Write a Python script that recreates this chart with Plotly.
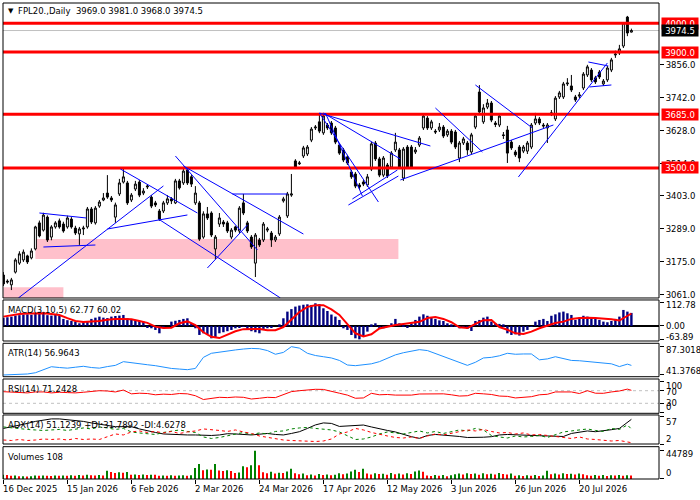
import plotly.graph_objects as go

#---DATA (one value per daily bar)---
tick_pos = [0, 16, 32, 48, 64, 80, 96, 112, 128, 144]
tick_text = ["16 Dec 2025", "15 Jan 2026", "6 Feb 2026", "2 Mar 2026", "24 Mar 2026",
             "17 Apr 2026", "12 May 2026", "3 Jun 2026", "26 Jun 2026", "20 Jul 2026"]

open_ = [3130, 3109, 3096, 3140, 3171, 3182, 3196, 3189, 3220, 3310,
         3285, 3330, 3261, 3296, 3317, 3306, 3296, 3323, 3292, 3272,
         3289, 3296, 3358, 3310, 3368, 3389, 3413, 3396, 3330, 3410,
         3451, 3448, 3389, 3427, 3451, 3413, 3434, 3399, 3379, 3351,
         3351, 3379, 3393, 3379, 3455, 3448, 3493, 3469, 3379, 3379,
         3261, 3341, 3344, 3220, 3306, 3313, 3310, 3261, 3296, 3282,
         3379, 3310, 3261, 3171, 3251, 3251, 3285, 3275, 3251, 3272,
         3386, 3334, 3406, 3524, 3514, 3541, 3548, 3596, 3638, 3659,
         3621, 3648, 3655, 3638, 3579, 3562, 3538, 3486, 3479, 3441,
         3451, 3441, 3496, 3586, 3531, 3475, 3510, 3503, 3562, 3562,
         3465, 3572, 3572, 3555, 3579, 3638, 3672, 3638, 3627, 3631,
         3641, 3614, 3627, 3624, 3534, 3586, 3586, 3555, 3641, 3762,
         3659, 3710, 3724, 3655, 3648, 3614, 3631, 3589, 3555, 3572,
         3558, 3558, 3572, 3655, 3669, 3648, 3638, 3686, 3669, 3745,
         3745, 3790, 3783, 3745, 3748, 3776, 3821, 3838, 3811, 3831,
         3790, 3804, 3838, 3890, 3897, 3921, 4021, 3969]
high = [3140, 3115, 3120, 3188, 3212, 3218, 3200, 3222, 3300, 3318,
        3345, 3336, 3302, 3316, 3325, 3314, 3335, 3330, 3300, 3296,
        3300, 3365, 3365, 3368, 3389, 3413, 3475, 3403, 3380, 3462,
        3496, 3455, 3413, 3455, 3458, 3430, 3444, 3406, 3386, 3358,
        3386, 3406, 3399, 3462, 3462, 3496, 3500, 3475, 3437, 3386,
        3350, 3365, 3350, 3268, 3344, 3320, 3317, 3292, 3300, 3368,
        3410, 3317, 3268, 3275, 3258, 3313, 3296, 3282, 3268, 3337,
        3400, 3417, 3479, 3530, 3524, 3576, 3579, 3641, 3648, 3683,
        3686, 3655, 3662, 3645, 3586, 3569, 3545, 3493, 3486, 3448,
        3458, 3479, 3590, 3593, 3538, 3541, 3517, 3558, 3621, 3569,
        3572, 3579, 3579, 3572, 3610, 3686, 3679, 3666, 3634, 3655,
        3648, 3634, 3634, 3631, 3593, 3607, 3593, 3621, 3686, 3786,
        3720, 3738, 3731, 3662, 3686, 3624, 3645, 3596, 3562, 3579,
        3579, 3593, 3655, 3690, 3676, 3655, 3655, 3700, 3748, 3766,
        3797, 3810, 3821, 3752, 3762, 3831, 3856, 3845, 3818, 3838,
        3807, 3852, 3880, 3905, 3925, 4004, 4025, 3981]
low = [3092, 3100, 3078, 3135, 3165, 3175, 3168, 3184, 3215, 3260,
       3280, 3244, 3250, 3290, 3290, 3276, 3290, 3290, 3268, 3234,
       3268, 3290, 3306, 3304, 3362, 3385, 3393, 3382, 3310, 3403,
       3446, 3372, 3382, 3420, 3399, 3406, 3427, 3361, 3365, 3317,
       3344, 3372, 3375, 3375, 3425, 3441, 3441, 3434, 3372, 3248,
       3255, 3320, 3261, 3185, 3296, 3296, 3275, 3254, 3278, 3275,
       3337, 3275, 3220, 3123, 3227, 3244, 3278, 3227, 3244, 3265,
       3380, 3327, 3400, 3496, 3510, 3534, 3541, 3589, 3631, 3620,
       3614, 3631, 3614, 3582, 3545, 3520, 3510, 3462, 3430, 3427,
       3437, 3434, 3489, 3524, 3468, 3468, 3465, 3496, 3555, 3496,
       3455, 3496, 3496, 3548, 3572, 3631, 3631, 3631, 3617, 3624,
       3603, 3607, 3582, 3565, 3520, 3579, 3545, 3548, 3634, 3686,
       3652, 3703, 3658, 3641, 3641, 3600, 3517, 3562, 3538, 3520,
       3551, 3548, 3565, 3648, 3648, 3638, 3586, 3679, 3662, 3738,
       3738, 3783, 3762, 3728, 3741, 3769, 3814, 3797, 3790, 3807,
       3783, 3797, 3831, 3880, 3890, 3914, 3955, 3968]
close = [3099, 3106, 3113, 3182, 3203, 3209, 3175, 3213, 3296, 3265,
         3337, 3251, 3296, 3310, 3296, 3282, 3327, 3296, 3275, 3289,
         3292, 3358, 3313, 3361, 3382, 3396, 3399, 3389, 3372, 3448,
         3469, 3379, 3406, 3444, 3406, 3420, 3437, 3368, 3372, 3323,
         3379, 3393, 3386, 3455, 3431, 3489, 3448, 3444, 3413, 3254,
         3341, 3327, 3268, 3261, 3327, 3306, 3282, 3285, 3285, 3361,
         3344, 3282, 3227, 3268, 3234, 3306, 3289, 3251, 3261, 3330,
         3393, 3410, 3410, 3503, 3517, 3569, 3572, 3634, 3641, 3627,
         3679, 3638, 3621, 3589, 3551, 3527, 3517, 3469, 3437, 3434,
         3444, 3469, 3583, 3531, 3475, 3534, 3472, 3551, 3589, 3503,
         3565, 3503, 3503, 3562, 3603, 3679, 3638, 3659, 3624, 3641,
         3610, 3627, 3589, 3572, 3586, 3600, 3562, 3614, 3679, 3693,
         3707, 3724, 3665, 3650, 3679, 3612, 3551, 3569, 3545, 3534,
         3572, 3586, 3648, 3669, 3655, 3645, 3648, 3690, 3741, 3759,
         3790, 3793, 3769, 3735, 3752, 3824, 3849, 3804, 3797, 3814,
         3800, 3845, 3873, 3893, 3911, 4001, 3966, 3974.5]

macd_main = [40, 42, 45, 50, 52, 55, 56, 54, 62, 68,
             66, 52, 50, 53, 49, 34, 28, 24, 21, 13,
             18, 21, 34, 40, 45, 40, 38, 45, 48, 50,
             53, 37, 32, 28, 24, 21, -5, -11, -19, -35,
             -11, 0, 21, 25, 29, 34, 37, 13, -11, -43,
             -35, -40, -59, -56, -35, -30, -25, -19, -11, -5,
             -3, -19, -25, -30, -35, -14, -11, -8, 0, 8,
             37, 69, 81, 93, 98, 102, 104, 101, 109, 105,
             85, 72, 55, 45, 29, -11, -19, -43, -59, -64,
             -51, -27, 8, 13, -5, -11, -3, 13, 34, 13,
             5, -8, 13, 29, 45, 56, 49, 40, 34, 27,
             24, 13, 8, -3, -11, -8, -14, -24, 24, 29,
             40, 45, 21, 13, 10, 8, -35, -43, -40, -46,
             -27, -19, -3, 21, 29, 34, 24, 49, 56, 65,
             69, 61, 53, 29, 40, 49, 45, 40, 37, 29,
             21, 18, 24, 34, 45, 77, 69, 62.77]

volumes = [6800, 6200, 5300, 5600, 4200, 4500, 4000, 4400,
           5600, 5000, 5500, 5200, 4800, 5400, 5100, 5600, 5300,
           5800, 5200, 6300, 5500, 6600, 6000, 5400, 6200, 5700,
           13000, 11000, 9500, 10500, 9800, 11200,
           6800, 7200, 6500, 7000, 6400, 6900, 6600,
           5000, 5600, 5200, 5800, 5100, 5500, 5900, 5300, 6000,
           17400, 23700, 14000, 15200, 14500, 23700,
           13500, 12500, 13800, 12800, 9500, 10200, 20000, 18500,
           21600, 44789, 21600,
           10500, 9000, 11500, 8500, 10000, 9500, 12000, 16300,
           9000, 7500, 8500, 6000, 7000, 5500, 8000, 6500, 7200, 5800, 6800, 9200, 7500, 8800,
           12000, 14500, 11000, 16300,
           8500, 7200, 9000, 7800, 8200, 6900, 9300, 7500, 8600, 7000, 9200, 8000,
           12000, 13500, 11500,
           5500, 4800, 6200, 5000, 6500, 4500, 5800,
           7500, 8800, 7000, 9200, 7800, 8500, 6900, 9000, 7600, 8300, 7100, 9400, 8000, 7300, 8700,
           5000, 6000, 4600, 5800, 5200, 6500, 4800, 5500, 13000,
           7500, 8500, 7000, 9000, 7800, 8300, 7200, 8800, 7600,
           5800, 5000, 6500, 5300, 6200, 4900, 6000, 5400, 6300, 5100, 5900, 5500]

# line indicators, read every second bar plus the last bar
macd_signal = [45, 52, 57, 60, 61, 61, 58, 53, 38, 24, 19, 21, 24, 30, 34, 34, 32, 24, 15, -3,
               -10, -8, 13, 22, 4, -30, -52, -58, -40, -25, -15, -14, -14, -20, -20, -5, 29, 67, 92, 100,
               100, 80, 53, 10, -35, -50, -40, -12, -2, 5, 10, 14, 20, 38, 43, 34, 18, -6, -10, 10,
               28, 29, -5, -18, -35, -38, -27, -11, 3, 14, 21, 34, 38, 40, 38, 36, 32, 26, 49, 60.02]
atr = [41.4, 42, 42.5, 43, 45, 50, 54.8, 53.5, 52.5, 54, 55.5, 53.5, 52.5, 55, 57, 63, 61, 59.5, 58, 56.5,
       54, 52, 51, 50, 52, 70, 76.6, 78, 80, 82, 83.5, 84.5, 84, 81, 75, 78, 87.3, 85, 76.6, 73,
       71, 69, 65, 57.6, 56.5, 57.5, 59.5, 63, 68, 74, 77.5, 80.5, 82.5, 81, 76, 71, 66, 62, 57, 62,
       69, 70, 72.5, 76.6, 75, 75.5, 75.5, 66, 67.5, 71, 67.5, 65, 64.5, 63.5, 61.5, 60.5, 59.5, 55, 59, 56.96]
rsi = [66.8, 65, 64, 63, 66, 66, 63, 65, 64, 63, 65, 68, 70, 69, 66, 72, 60, 62, 61, 57,
       59, 58, 61, 60, 54, 42, 45, 49, 48, 50, 49, 43.6, 46, 49, 48, 58, 67, 70, 73, 74.4,
       74, 67, 62, 56, 46, 47, 61.7, 57, 58, 56, 57, 56, 59.5, 60, 59, 60, 57, 53, 54, 61.7,
       60, 58, 53, 52, 47, 48, 51, 57, 58.6, 66, 67, 66, 61, 70, 62, 61.7, 66, 69, 75, 71.24]
adx = [33, 36, 40, 43, 47, 50, 52, 52, 50.5, 49, 47, 44, 42, 39, 36.5, 36, 36.5, 32, 28, 25,
       22, 21, 20, 20, 20, 19.5, 19, 20, 22.5, 22, 21, 20, 21.5, 23, 21, 20, 23, 26.5, 33, 40,
       44, 43, 37, 38, 39, 39.8, 36, 32, 29, 26, 21, 16.6, 13.3, 19, 21, 20, 18.6, 17, 15, 14.6,
       15.5, 16.6, 20, 21, 20, 19, 18.6, 18.5, 18, 17, 17, 23, 26, 28, 26.5, 28, 30.5, 33, 44, 51.12]
plus_di = [36, 34, 33, 31, 30, 29, 30, 31, 29, 31, 34, 32, 36, 34, 31, 33, 26, 24, 22, 21,
           25, 28, 30, 27, 25, 16, 13, 15, 18, 22, 25, 21, 24, 22, 27, 28, 32, 34, 35, 33,
           32, 30, 26, 18, 11, 12, 16, 22, 26, 24, 22, 25, 28, 24, 27, 23, 26, 30, 28, 33,
           30, 19, 16, 14, 18, 16, 17, 19, 15, 20, 26, 28, 30, 32, 29, 27, 33, 31, 40, 31.79]
minus_di = [10, 9, 11, 9, 10, 12, 11, 12, 10, 13, 11, 12, 11, 16, 22, 20, 26, 28, 25, 27,
            24, 27, 23, 26, 28, 32, 31, 29, 27, 30, 26, 23, 18, 15, 12, 10, 9, 8, 7, 7,
            8, 12, 22, 26, 33, 30, 25, 21, 18, 15, 14, 16, 13, 18, 22, 20, 23, 26, 30, 28,
            31, 27, 24, 25, 22, 24, 20, 21, 19, 17, 15, 13, 16, 12, 11, 10, 8, 9, 6, 4.63]

# horizontal levels and drawn objects (bar index, price)
levels = [4000.0, 3900.0, 3685.0, 3500.0]
bid = 3974.5
zone_x0 = [8, 0]
zone_x1 = [98.75, 15]
zone_y0 = [3185, 3045]
zone_y1 = [3254, 3088]
trend_x0 = [3.75, 26, 9, 10, 29.25, 38.75, 43, 45, 57.25, 51, 79, 80, 79, 80.5, 87.25, 86.25, 99.25, 108, 118, 128.75, 146.25, 146.5]
trend_y0 = [3050.6, 3288.9, 3344.2, 3226.7, 3496.2, 3323.5, 3541.1, 3506.6, 3409.8, 3154.2, 3689.6, 3689.6, 3689.6, 3689.6, 3392.6, 3371.8, 3458.2, 3706.9, 3786.4, 3468.6, 3865.8, 3779.5]
trend_x1 = [40, 46, 20.75, 23, 48.5, 69.25, 63.5, 75, 71, 61, 106.75, 99.25, 93.75, 89.75, 98.5, 98.75, 137.5, 119.75, 132.25, 151, 151.25, 152]
trend_y1 = [3437.5, 3337.3, 3326.9, 3233.6, 3344.2, 3050.6, 3216.4, 3271.6, 3409.8, 3302.7, 3575.6, 3530.7, 3382.2, 3402.9, 3492.7, 3472.0, 3648.2, 3554.9, 3637.8, 3862.4, 3852.0, 3786.4]

price_ticks = [3061, 3175, 3289, 3403, 3514, 3628, 3742, 3856]

bars = list(range(len(close)))
line_bars = bars[::2] + [bars[-1]]
for series in (open_, high, low, macd_main, volumes):
    assert len(series) == len(bars)
for series in (macd_signal, atr, rsi, adx, plus_di, minus_di):
    assert len(series) == len(line_bars)

vol_colors = ['#008000'] + ['#008000' if volumes[i] > volumes[i - 1] else '#ff0000' for i in range(1, len(volumes))]

FONT = "DejaVu Sans"

#---PLOT---
fig = go.Figure()
fig.add_trace(go.Candlestick(
    x=bars, open=open_, high=high, low=low, close=close,
    increasing=dict(line=dict(color='black', width=1), fillcolor='white'),
    decreasing=dict(line=dict(color='black', width=1), fillcolor='black'),
    yaxis='y', showlegend=False, hoverinfo='skip'))
fig.add_trace(go.Bar(x=bars, y=macd_main, width=0.6, marker_color='#000080',
                     marker_line_width=0, yaxis='y2', showlegend=False))
fig.add_trace(go.Scatter(x=line_bars, y=macd_signal, mode='lines',
                         line=dict(color='#ff0000', width=2), yaxis='y2', showlegend=False))
fig.add_trace(go.Scatter(x=line_bars, y=atr, mode='lines',
                         line=dict(color='#1e90ff', width=1), yaxis='y3', showlegend=False))
fig.add_trace(go.Scatter(x=line_bars, y=rsi, mode='lines',
                         line=dict(color='#ff0000', width=1), yaxis='y4', showlegend=False))
fig.add_trace(go.Scatter(x=line_bars, y=adx, mode='lines',
                         line=dict(color='black', width=1), yaxis='y5', showlegend=False))
fig.add_trace(go.Scatter(x=line_bars, y=plus_di, mode='lines',
                         line=dict(color='#008000', width=1, dash='3px,3px'), yaxis='y5', showlegend=False))
fig.add_trace(go.Scatter(x=line_bars, y=minus_di, mode='lines',
                         line=dict(color='#ff0000', width=1, dash='3px,3px'), yaxis='y5', showlegend=False))
fig.add_trace(go.Bar(x=bars, y=volumes, width=0.3, marker_color=vol_colors,
                     marker_line_width=0, yaxis='y6', showlegend=False))

#---AXES---
panels = {
    'yaxis': ([0.3803, 1.0], [3050.6, 4069.6]),
    'yaxis2': ([0.2899, 0.3761], [-72, 124.8]),
    'yaxis3': ([0.2149, 0.2851], [38.6, 92.8]),
    'yaxis4': ([0.1380, 0.2101], [-1.75, 107.1]),
    'yaxis5': ([0.0735, 0.1345], [2.0, 59.8]),
    'yaxis6': ([0.0, 0.0679], [0, 51070]),
}
panel_ticks = {
    'yaxis2': [112.78, 0, -63.89],
    'yaxis3': [87.3018, 41.3768],
    'yaxis4': [100, 70, 30, 0],
    'yaxis5': [57, 2],
    'yaxis6': [44789, 0],
}
axis_style = dict(side='right', anchor='x', showgrid=False, zeroline=False, showline=False,
                  ticks='outside', ticklen=4, tickcolor='black', fixedrange=True)
for name, (dom, rng) in panels.items():
    if name == 'yaxis':
        fig.update_layout({name: dict(domain=dom, range=rng, tickvals=price_ticks,
                                      ticktext=['%.1f' % v for v in price_ticks], **axis_style)})
    else:
        fig.update_layout({name: dict(domain=dom, range=rng, tickvals=panel_ticks[name],
                                      showticklabels=False, **axis_style)})

fig.update_layout(
    width=700, height=500,
    margin=dict(l=3, r=41, t=3, b=21),
    paper_bgcolor='white', plot_bgcolor='white',
    font=dict(family=FONT, size=8.5, color='black'),
    barmode='overlay',
    xaxis=dict(domain=[0, 1], range=[-0.1, 163.9], anchor='y6', showgrid=False, zeroline=False,
               tickvals=tick_pos, showticklabels=False, ticks='outside', ticklen=4,
               tickcolor='black', rangeslider=dict(visible=False), fixedrange=True),
)

#---SHAPES---
shapes = []
for x0, x1, y0, y1 in zip(zone_x0, zone_x1, zone_y0, zone_y1):
    shapes.append(dict(type='rect', xref='x', yref='y', x0=x0, x1=x1, y0=y0, y1=y1,
                       fillcolor='#ffc0cb', line_width=0, layer='below'))
for lv in (70, 30):
    shapes.append(dict(type='line', xref='paper', yref='y4', x0=0, x1=1, y0=lv, y1=lv,
                       line=dict(color='#c0c0c0', width=1, dash='3px,3px'), layer='below'))
shapes.append(dict(type='line', xref='paper', yref='y2', x0=0, x1=1, y0=0, y1=0,
                   line=dict(color='black', width=2), layer='below'))
shapes.append(dict(type='line', xref='paper', yref='y', x0=0, x1=1, y0=bid, y1=bid,
                   line=dict(color='#c0c0c0', width=1), layer='below'))
for lv in levels:
    shapes.append(dict(type='line', xref='paper', yref='y', x0=0, x1=1, y0=lv, y1=lv,
                       line=dict(color='#ff0000', width=3)))
for x0, y0, x1, y1 in zip(trend_x0, trend_y0, trend_x1, trend_y1):
    shapes.append(dict(type='line', xref='x', yref='y', x0=x0, y0=y0, x1=x1, y1=y1,
                       line=dict(color='#0000ff', width=1)))
for name, (dom, rng) in panels.items():
    shapes.append(dict(type='rect', xref='paper', yref='paper', x0=0, x1=1, y0=dom[0], y1=dom[1],
                       line=dict(color='black', width=1), fillcolor='rgba(0,0,0,0)'))
fig.update_layout(shapes=shapes)

#---ANNOTATIONS---
ann = []
ann.append(dict(xref='paper', yref='paper', x=0, y=1, xanchor='left', yanchor='top',
                xshift=3, yshift=-2, text='▼', showarrow=False, font=dict(size=7)))
ann.append(dict(xref='paper', yref='paper', x=0, y=1, xanchor='left', yanchor='top',
                xshift=13, yshift=-1, text='FPL20.,Daily  3969.0 3981.0 3968.0 3974.5',
                showarrow=False))
titles = [('MACD(3,10,5) 62.77 60.02', 'yaxis2'), ('ATR(14) 56.9643', 'yaxis3'),
          ('RSI(14) 71.2428', 'yaxis4'), ('ADX(14) 51.1239 +DI:31.7892 -DI:4.6278', 'yaxis5'),
          ('Volumes 108', 'yaxis6')]
for txt, name in titles:
    ann.append(dict(xref='paper', yref='paper', x=0, y=panels[name][0][1], xanchor='left',
                    yanchor='top', xshift=3, yshift=-3, text=txt, showarrow=False))
for pos, txt in zip(tick_pos, tick_text):
    ann.append(dict(xref='x', yref='paper', x=pos, y=0, xanchor='left', yanchor='top',
                    xshift=-2, yshift=-3, text=txt, showarrow=False))
# indicator scale labels, nudged inside their panels like the terminal does
label_shift = {'yaxis2': {112.78: -2.5, 0: 0, -63.89: 2.3},
               'yaxis3': {87.3018: -3.3, 41.3768: 4},
               'yaxis4': {100: -4.5, 70: -1, 30: 0, 0: 5.8},
               'yaxis5': {57: -6, 2: 5},
               'yaxis6': {44789: -3.5, 0: 6}}
label_fmt = {'yaxis2': '%.2f', 'yaxis3': '%.4f', 'yaxis4': '%g', 'yaxis5': '%g', 'yaxis6': '%g'}
for name, vals in panel_ticks.items():
    for v in vals:
        ann.append(dict(xref='paper', yref=name.replace('axis', ''), x=1, y=v, xanchor='left',
                        yanchor='middle', xshift=5, yshift=label_shift[name][v],
                        text=label_fmt[name] % v, showarrow=False))
for lv in levels:
    ann.append(dict(xref='paper', yref='y', x=1, y=lv, xanchor='left', yanchor='middle',
                    xshift=2, text='%.1f' % lv, showarrow=False, bgcolor='#ff0000',
                    font=dict(color='white'), width=34, height=9, borderpad=1))
ann.append(dict(xref='paper', yref='y', x=1, y=bid, xanchor='left', yanchor='middle',
                xshift=2, text='%.1f' % bid, showarrow=False, bgcolor='black',
                font=dict(color='white'), width=34, height=9, borderpad=1))
fig.update_layout(annotations=ann)

# the page body has a default 8px margin; drop it so the 700x500 figure fills the window
fig.write_html("out.html", config={'displayModeBar': False},
               post_script="document.body.style.margin='0px';")
